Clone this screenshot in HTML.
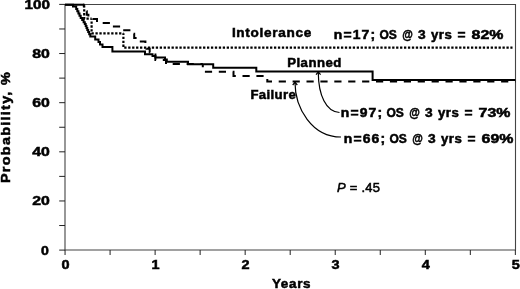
<!DOCTYPE html>
<html><head><meta charset="utf-8"><style>
html,body{margin:0;padding:0;background:#fff;}
body{width:520px;height:289px;overflow:hidden;}
svg{display:block;will-change:transform;}
text{font-family:"Liberation Sans", sans-serif;fill:#000;stroke:#000;stroke-width:0.5px;}
</style></head><body>
<svg width="520" height="289" viewBox="0 0 520 289">
<rect x="0" y="0" width="520" height="289" fill="#fff"/>
<path d="M65,250 V4.5 H515.5 V250 Z" fill="none" stroke="#444" stroke-width="1.1"/>
<g stroke="#222" stroke-width="1">
<line x1="59.2" y1="250.10" x2="65" y2="250.10"/>
<line x1="59.2" y1="225.53" x2="65" y2="225.53"/>
<line x1="59.2" y1="200.96" x2="65" y2="200.96"/>
<line x1="59.2" y1="176.39" x2="65" y2="176.39"/>
<line x1="59.2" y1="151.82" x2="65" y2="151.82"/>
<line x1="59.2" y1="127.25" x2="65" y2="127.25"/>
<line x1="59.2" y1="102.68" x2="65" y2="102.68"/>
<line x1="59.2" y1="78.11" x2="65" y2="78.11"/>
<line x1="59.2" y1="53.54" x2="65" y2="53.54"/>
<line x1="59.2" y1="28.97" x2="65" y2="28.97"/>
<line x1="59.2" y1="4.40" x2="65" y2="4.40"/>
<line x1="65.05" y1="250" x2="65.05" y2="255"/>
<line x1="110.08" y1="250" x2="110.08" y2="255"/>
<line x1="155.11" y1="250" x2="155.11" y2="255"/>
<line x1="200.14" y1="250" x2="200.14" y2="255"/>
<line x1="245.17" y1="250" x2="245.17" y2="255"/>
<line x1="290.20" y1="250" x2="290.20" y2="255"/>
<line x1="335.23" y1="250" x2="335.23" y2="255"/>
<line x1="380.26" y1="250" x2="380.26" y2="255"/>
<line x1="425.29" y1="250" x2="425.29" y2="255"/>
<line x1="470.32" y1="250" x2="470.32" y2="255"/>
<line x1="515.35" y1="250" x2="515.35" y2="255"/>
</g>
<path d="M65,4.7 H84" fill="none" stroke="#000" stroke-width="2"/>
<path d="M84.2,4.7 V18.7 H91.6" fill="none" stroke="#000" stroke-width="2.2" stroke-dasharray="2.3 1.64" stroke-dashoffset="3.43"/>
<path d="M91.6,18.7 V33.3 H123.4" fill="none" stroke="#000" stroke-width="2.2" stroke-dasharray="2.3 1.64" stroke-dashoffset="1.25"/>
<path d="M123.4,33.3 V47.7 H512.5" fill="none" stroke="#000" stroke-width="2.2" stroke-dasharray="2.3 1.64" stroke-dashoffset="0.51"/>
<path d="M83,4.7 H83.8 V7.6 H85.3 V11.2 H86.8 V14.8 H88.4 V19.1 H97.0 V22.9 H110.7 V26.6 H121.1 V30.2 H132.0 V33.7 H134.2 V37.9 H138.8 V41.4 H145.4 V45.0 H146.5 V48.7 H149.7 V52.4 H152.5 V54.5 H155.4 V60.1 H166 V64.1 H202.8" fill="none" stroke="#000" stroke-width="2" stroke-dasharray="7.2 6.7" stroke-dashoffset="3.8"/>
<path d="M202.8,64.1 V71.8 H233.5 V75.9 H267.3 V81.4 H515.4" fill="none" stroke="#000" stroke-width="2" stroke-dasharray="7.2 6.7" stroke-dashoffset="4.1"/>
<path d="M65,4.7 H73 V6.5 H76.2 V9 H77.3 V11.3 H78.4 V13.6 H79.5 V15.8 H80.7 V17.9 H82.2 V20 H83.6 V22.2 H84.8 V24 H85.7 V26 H86.5 V28 H87.3 V30 H88.2 V32 H89.2 V34.2 H90.3 V36.5 H95.2 V39.4 H98.5 V42 H100 V44.5 H102.5 V47 H112.4 V51.5 H145 V54.3 H152.5 V56 H155.4 V57.5 H165 V59.5 H166.8 V61.8 H188 V64.3 H213.2 V67.7 H256.3 V71.4 H372.6 V80 H515.4" fill="none" stroke="#000" stroke-width="2"/>
<path d="M339.5,112.5 C326,112 318.5,95 318.3,73" fill="none" stroke="#000" stroke-width="1.2"/>
<path d="M316,74.6 L318.3,72 L320.6,74.6" fill="none" stroke="#000" stroke-width="1.2"/>
<path d="M341,137 C312,137 295,108 295,82.5" fill="none" stroke="#000" stroke-width="1.2"/>
<path d="M292.7,85 L295,82.3 L297.3,85" fill="none" stroke="#000" stroke-width="1.2"/>
<text id="y100" x="24.50" y="8.80" font-size="12.5" font-weight="bold" textLength="25.43" lengthAdjust="spacingAndGlyphs" letter-spacing="0.000">100</text>
<text id="y80" x="32.20" y="57.94" font-size="12.5" font-weight="bold" textLength="17.58" lengthAdjust="spacingAndGlyphs" letter-spacing="0.000">80</text>
<text id="y60" x="32.20" y="107.08" font-size="12.5" font-weight="bold" textLength="17.58" lengthAdjust="spacingAndGlyphs" letter-spacing="0.000">60</text>
<text id="y40" x="32.20" y="156.22" font-size="12.5" font-weight="bold" textLength="17.58" lengthAdjust="spacingAndGlyphs" letter-spacing="0.000">40</text>
<text id="y20" x="32.20" y="205.36" font-size="12.5" font-weight="bold" textLength="17.58" lengthAdjust="spacingAndGlyphs" letter-spacing="0.000">20</text>
<text id="y0" x="41.00" y="254.50" font-size="12.5" font-weight="bold" textLength="7.85" lengthAdjust="spacingAndGlyphs">0</text>
<text id="x0" x="61.45" y="269.40" font-size="12.5" font-weight="bold" textLength="8.05" lengthAdjust="spacingAndGlyphs">0</text>
<text id="x1" x="151.51" y="269.40" font-size="12.5" font-weight="bold" textLength="8.05" lengthAdjust="spacingAndGlyphs">1</text>
<text id="x2" x="241.57" y="269.40" font-size="12.5" font-weight="bold" textLength="8.05" lengthAdjust="spacingAndGlyphs">2</text>
<text id="x3" x="331.63" y="269.40" font-size="12.5" font-weight="bold" textLength="8.05" lengthAdjust="spacingAndGlyphs">3</text>
<text id="x4" x="421.69" y="269.40" font-size="12.5" font-weight="bold" textLength="8.05" lengthAdjust="spacingAndGlyphs">4</text>
<text id="x5" x="511.75" y="269.40" font-size="12.5" font-weight="bold" textLength="8.05" lengthAdjust="spacingAndGlyphs">5</text>
<text id="years" x="271.90" y="288.00" font-size="12.5" font-weight="bold" textLength="39.41" lengthAdjust="spacingAndGlyphs" letter-spacing="0.663">Years</text>
<text id="intol" x="231.90" y="36.80" font-size="12.5" font-weight="bold" textLength="80.05" lengthAdjust="spacingAndGlyphs" letter-spacing="0.635">Intolerance</text>
<text id="planned" x="287.20" y="66.70" font-size="12.5" font-weight="bold" textLength="54.64" lengthAdjust="spacingAndGlyphs" letter-spacing="0.458">Planned</text>
<text id="failure" x="250.40" y="98.50" font-size="12.5" font-weight="bold" textLength="45.89" lengthAdjust="spacingAndGlyphs" letter-spacing="0.375">Failure</text>
<text id="p45" x="336.90" y="191.50" font-size="12.5" font-weight="normal" textLength="43.44" lengthAdjust="spacingAndGlyphs" letter-spacing="0.267"><tspan font-style="italic">P</tspan> = .45</text>
<text id="n17_0" x="333.80" y="38.60" font-size="12.5" font-weight="bold" textLength="42.47" lengthAdjust="spacingAndGlyphs" letter-spacing="1.025">n=17;</text>
<text id="n17_1" x="379.40" y="38.60" font-size="12.5" font-weight="bold" textLength="17.36" lengthAdjust="spacingAndGlyphs" letter-spacing="0.000">OS</text>
<text id="n17_2" x="402.30" y="38.60" font-size="12.5" font-weight="bold" textLength="10.58" lengthAdjust="spacingAndGlyphs">@</text>
<text id="n17_3" x="418.10" y="38.60" font-size="12.5" font-weight="bold" textLength="7.65" lengthAdjust="spacingAndGlyphs">3</text>
<text id="n17_4" x="430.90" y="38.60" font-size="12.5" font-weight="bold" textLength="21.35" lengthAdjust="spacingAndGlyphs" letter-spacing="0.500">yrs</text>
<text id="n17_5" x="457.50" y="38.60" font-size="12.5" font-weight="bold" textLength="8.04" lengthAdjust="spacingAndGlyphs">=</text>
<text id="n17_6" x="471.60" y="38.60" font-size="12.5" font-weight="bold" textLength="31.84" lengthAdjust="spacingAndGlyphs" letter-spacing="0.000">82%</text>
<text id="n97_0" x="340.80" y="117.10" font-size="12.5" font-weight="bold" textLength="42.47" lengthAdjust="spacingAndGlyphs" letter-spacing="1.025">n=97;</text>
<text id="n97_1" x="386.40" y="117.10" font-size="12.5" font-weight="bold" textLength="17.36" lengthAdjust="spacingAndGlyphs" letter-spacing="0.000">OS</text>
<text id="n97_2" x="409.30" y="117.10" font-size="12.5" font-weight="bold" textLength="10.58" lengthAdjust="spacingAndGlyphs">@</text>
<text id="n97_3" x="425.10" y="117.10" font-size="12.5" font-weight="bold" textLength="7.65" lengthAdjust="spacingAndGlyphs">3</text>
<text id="n97_4" x="437.90" y="117.10" font-size="12.5" font-weight="bold" textLength="21.35" lengthAdjust="spacingAndGlyphs" letter-spacing="0.500">yrs</text>
<text id="n97_5" x="464.50" y="117.10" font-size="12.5" font-weight="bold" textLength="8.04" lengthAdjust="spacingAndGlyphs">=</text>
<text id="n97_6" x="478.60" y="117.10" font-size="12.5" font-weight="bold" textLength="31.84" lengthAdjust="spacingAndGlyphs" letter-spacing="0.000">73%</text>
<text id="n66_0" x="343.80" y="142.60" font-size="12.5" font-weight="bold" textLength="42.47" lengthAdjust="spacingAndGlyphs" letter-spacing="1.025">n=66;</text>
<text id="n66_1" x="389.40" y="142.60" font-size="12.5" font-weight="bold" textLength="17.36" lengthAdjust="spacingAndGlyphs" letter-spacing="0.000">OS</text>
<text id="n66_2" x="412.30" y="142.60" font-size="12.5" font-weight="bold" textLength="10.58" lengthAdjust="spacingAndGlyphs">@</text>
<text id="n66_3" x="428.10" y="142.60" font-size="12.5" font-weight="bold" textLength="7.65" lengthAdjust="spacingAndGlyphs">3</text>
<text id="n66_4" x="440.90" y="142.60" font-size="12.5" font-weight="bold" textLength="21.35" lengthAdjust="spacingAndGlyphs" letter-spacing="0.500">yrs</text>
<text id="n66_5" x="467.50" y="142.60" font-size="12.5" font-weight="bold" textLength="8.04" lengthAdjust="spacingAndGlyphs">=</text>
<text id="n66_6" x="481.60" y="142.60" font-size="12.5" font-weight="bold" textLength="31.84" lengthAdjust="spacingAndGlyphs" letter-spacing="0.000">69%</text>
<text id="prob" transform="translate(10.00,183.00) rotate(-90)" font-size="12.5" font-weight="bold" textLength="111.98" lengthAdjust="spacingAndGlyphs" letter-spacing="1.115">Probability, %</text>
</svg>
</body></html>
